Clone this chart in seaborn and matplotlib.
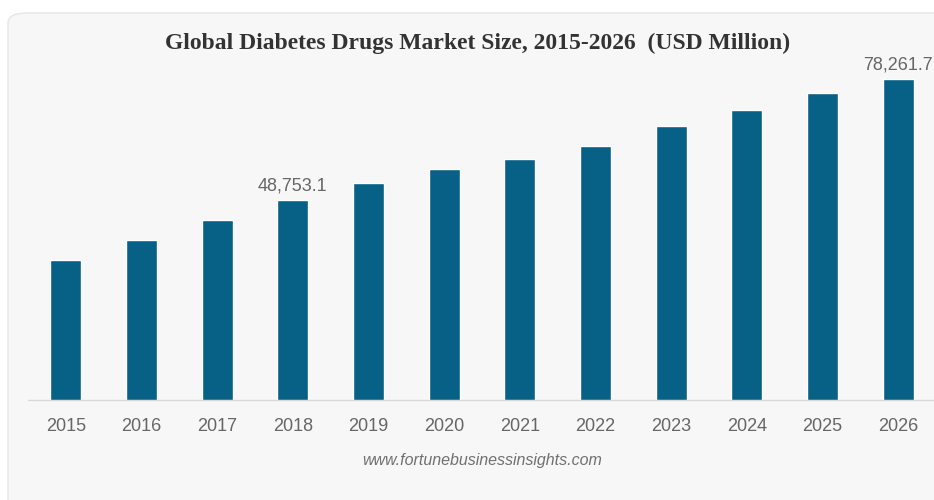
import matplotlib
matplotlib.use("Agg")
import matplotlib.pyplot as plt
import seaborn as sns
import pandas as pd
from matplotlib.patches import FancyBboxPatch

years = ["2015", "2016", "2017", "2018", "2019", "2020",
         "2021", "2022", "2023", "2024", "2025", "2026"]
market_size = [34180, 38980, 43870, 48753.1, 52850, 56280,
               58730, 61910, 66730, 70790, 74800, 78261.7]
value_labels = ["", "", "", "48,753.1", "", "", "", "", "", "", "", "78,261.7"]
title = "Global Diabetes Drugs Market Size, 2015-2026  (USD Million)"
source = "www.fortunebusinessinsights.com"

df = pd.DataFrame({"year": years, "value": market_size})

sns.set_theme(style="white")
plt.rcParams["font.family"] = ["Liberation Sans", "DejaVu Sans"]

W, H = 934, 500
fig = plt.figure(figsize=(W / 100, H / 100), dpi=100, facecolor="white")

# light grey panel with rounded corner
panel = FancyBboxPatch((8 / W, -0.05), 1.2, (H - 13) / H + 0.05,
                       boxstyle="round,pad=0,rounding_size=0.02",
                       transform=fig.transFigure, facecolor="#f7f7f7",
                       edgecolor="#e6e6e6", linewidth=1.0, zorder=-10)
fig.patches.append(panel)

ax = fig.add_axes([28 / W, 100 / H, 1 - 28 / W, 340 / H])
ax.set_facecolor("none")
ax.set_zorder(5)

sns.barplot(data=df, x="year", y="value", color="#076086", saturation=1,
            width=0.41, ax=ax, zorder=3)

ax.set_xlim(-0.5, 11.475)
ax.set_ylim(0, 339 * 244.7)

ax.bar_label(ax.containers[0], labels=value_labels, padding=4,
             fontsize=13, color="#666666", clip_on=False)

for s in ["top", "right", "left"]:
    ax.spines[s].set_visible(False)
ax.spines["bottom"].set_color("#d9d9d9")
ax.spines["bottom"].set_linewidth(1.0)
ax.set_yticks([])
ax.set_xlabel("")
ax.set_ylabel("")
ax.tick_params(axis="x", length=0, pad=13, labelsize=13, labelcolor="#666666")

fig.text(478 / W, 1 - 43 / H, title, ha="center", va="center",
         fontsize=17, fontweight="bold", color="#333333",
         family=["Liberation Serif", "DejaVu Serif"])

fig.text(482 / W, 1 - 460 / H, source, ha="center", va="center",
         fontsize=11.5, style="italic", color="#707070")

fig.savefig("out.png", dpi=100, facecolor="white")
